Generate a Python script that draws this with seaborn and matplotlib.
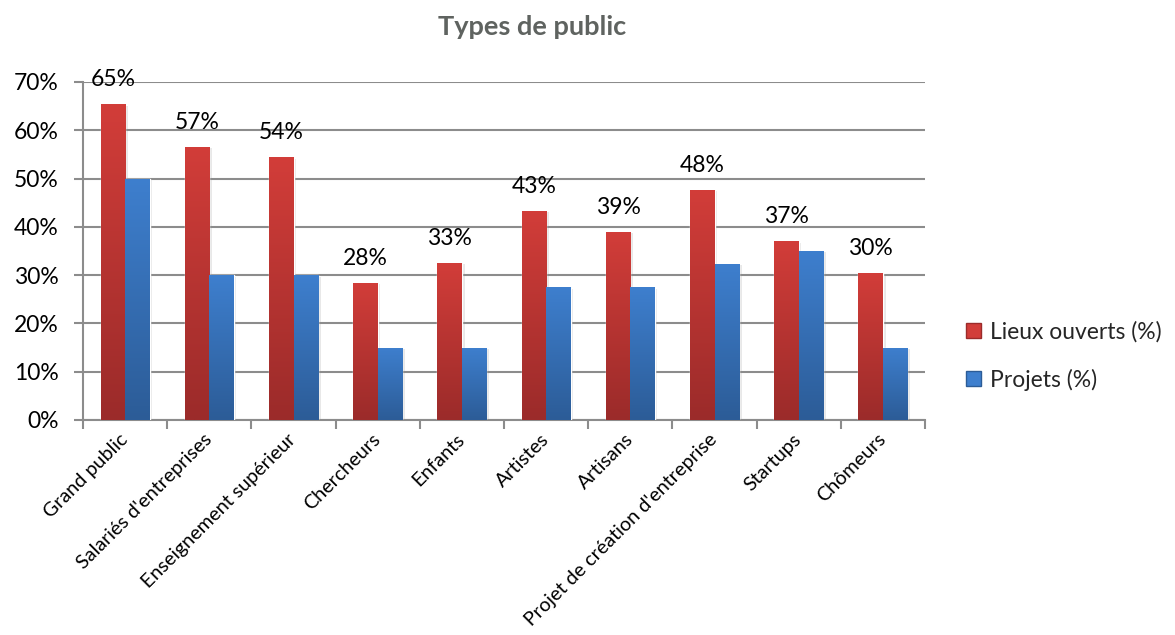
import numpy as np
import pandas as pd
import matplotlib
matplotlib.use("Agg")
import matplotlib.pyplot as plt
import seaborn as sns
from matplotlib.colors import LinearSegmentedColormap
from matplotlib.patches import Patch
import matplotlib.patheffects as pe

# --- data -------------------------------------------------------------
categories = [
    "Grand public",
    "Salariés d'entreprises",
    "Enseignement supérieur",
    "Chercheurs",
    "Enfants",
    "Artistes",
    "Artisans",
    "Projet de création d'entreprise",
    "Startups",
    "Chômeurs",
]
lieux_ouverts = [65.4, 56.6, 54.4, 28.4, 32.6, 43.3, 39.0, 47.7, 37.0, 30.4]
projets = [50.0, 30.0, 30.0, 15.0, 15.0, 27.5, 27.5, 32.4, 35.0, 15.0]
series_names = ["Lieux ouverts (%)", "Projets (%)"]
y_ticks = [0, 10, 20, 30, 40, 50, 60, 70]
title = "Types de public"

# --- style ------------------------------------------------------------
sns.set_theme(style="white")
plt.rcParams["font.family"] = ["Lato", "DejaVu Sans"]

red_top, red_bottom = "#D23D39", "#9B2B2A"
blue_top, blue_bottom = "#3E7FCE", "#2C5C97"
axis_grey = "#8C8C8C"

df = pd.DataFrame({
    "Type": categories * 2,
    "Série": [series_names[0]] * len(categories) + [series_names[1]] * len(categories),
    "Valeur": lieux_ouverts + projets,
})

W, H = 1175, 635
fig = plt.figure(figsize=(W / 100, H / 100), dpi=100)
ax = fig.add_axes([83 / W, 1 - 420 / H, (925 - 83) / W, (420 - 82) / H])

sns.barplot(
    data=df, x="Type", y="Valeur", hue="Série",
    palette=[red_bottom, blue_bottom], width=0.58, gap=0,
    saturation=1, errorbar=None, ax=ax, zorder=3,
)
ax.get_legend().remove()

# vertical gradient fill for every bar
grad = np.linspace(0, 1, 256).reshape(-1, 1)
cmaps = [
    LinearSegmentedColormap.from_list("r", [red_bottom, red_top]),
    LinearSegmentedColormap.from_list("b", [blue_bottom, blue_top]),
]
for container, cmap in zip(ax.containers, cmaps):
    for p in container.patches:
        x0, w, h = p.get_x(), p.get_width(), p.get_height()
        p.set_path_effects([
            pe.SimplePatchShadow(offset=(2, -1), shadow_rgbFace="0.55", alpha=0.2),
            pe.Normal(),
        ])
        im = ax.imshow(grad, cmap=cmap, origin="lower", aspect="auto",
                       extent=[x0, x0 + w, 0, h], zorder=3.5, interpolation="bilinear")
        im.set_clip_path(p)
ax.set_xlim(-0.5, len(categories) - 0.5)
ax.set_ylim(0, 70)

# value labels above the first series
for p, v in zip(ax.containers[0].patches, lieux_ouverts):
    ax.annotate(f"{v:.0f}%", xy=(p.get_x() + p.get_width() / 2, v),
                xytext=(0, 13), textcoords="offset points",
                ha="center", va="baseline", fontsize=16.5, color="black",
                annotation_clip=False, zorder=5)

# axes, grid and ticks
ax.set_axisbelow(True)
ax.yaxis.grid(True, color=axis_grey, lw=1.5)
for side in ["top", "right"]:
    ax.spines[side].set_visible(False)
for side in ["left", "bottom"]:
    ax.spines[side].set_color(axis_grey)
    ax.spines[side].set_linewidth(1.5)

ax.set_yticks(y_ticks)
ax.set_yticklabels([f"{t}%" for t in y_ticks], fontsize=16.5, color="black")
ax.tick_params(axis="y", left=True, length=6.5, width=1.5, color=axis_grey, pad=11)

ax.set_xticks(range(len(categories)))
ax.set_xticklabels(categories, rotation=45, ha="right", va="center",
                   rotation_mode="anchor", fontsize=14.2, color="black")
ax.tick_params(axis="x", which="major", bottom=True, length=0, pad=12)
ax.set_xticks(np.arange(-0.5, len(categories)), minor=True)
ax.tick_params(axis="x", which="minor", bottom=True, length=6.5, width=1.5, color=axis_grey)

ax.set_xlabel("")
ax.set_ylabel("")

# legend
handles = [Patch(facecolor=red_top, edgecolor=red_bottom),
           Patch(facecolor=blue_top, edgecolor=blue_bottom)]
fig.legend(handles, series_names, loc="center left",
           bbox_to_anchor=(966 / W, 1 - 356 / H), frameon=False,
           fontsize=16.5, handlelength=0.65, handleheight=0.65,
           handletextpad=0.4, labelspacing=1.12, borderpad=0, borderaxespad=0)

fig.text(532 / W, 1 - 27 / H, title, ha="center", va="center",
         fontsize=19.5, fontweight="bold", color="#5F6360")

fig.savefig("out.png", dpi=100, facecolor="white")
